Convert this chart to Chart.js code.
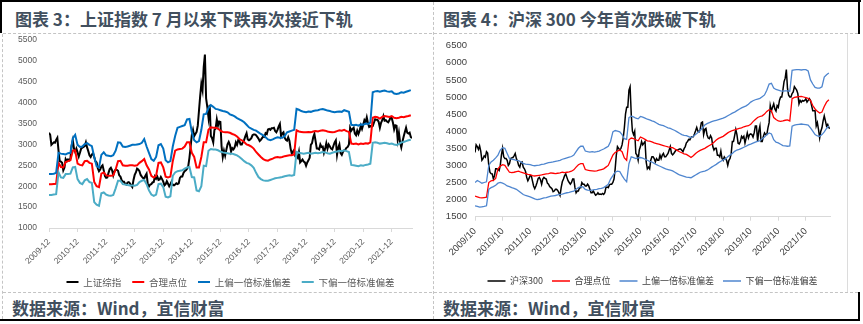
<!DOCTYPE html>
<html>
<head>
<meta charset="utf-8">
<script src="https://cdn.jsdelivr.net/npm/chart.js@4.4.0/dist/chart.umd.min.js"></script>
<style>
  html, body { margin: 0; padding: 0; background: #fff; }
  #page { position: relative; width: 863px; height: 324px; overflow: hidden; font-family: "Noto Sans CJK SC", sans-serif; }
  .title { position: absolute; font-size: 17px; font-weight: 700; color: #414f5e; line-height: 20px; white-space: nowrap; }
  .dash-h { position: absolute; height: 0; border-top: 1px dashed #c4c4c4; }
  .dash-v { position: absolute; width: 0; border-left: 1px dashed #c4c4c4; }
  .rule { position: absolute; background: #000; }
  canvas { position: absolute; }
</style>
</head>
<body>
<div id="page">
  <div class="rule" style="left:0;top:0;width:861px;height:2px"></div>
  <div class="rule" style="left:0;top:0;width:2px;height:33px"></div>
  <div class="rule" style="left:858px;top:0;width:2px;height:34px"></div>
  <div class="rule" style="left:858px;top:292px;width:2px;height:29px"></div>
  <div class="rule" style="left:0;top:319px;width:860px;height:2px"></div>
  <div class="dash-h" style="left:3px;top:33px;width:855px"></div>
  <div class="dash-h" style="left:3px;top:292px;width:855px"></div>
  <div class="dash-v" style="left:2px;top:34px;height:285px"></div>
  <div class="dash-v" style="left:433px;top:2px;height:317px"></div>
  <div style="position:absolute;left:847px;top:34px;width:1px;height:258px;background:#dcdcdc"></div>

  <div class="title" style="left:15px;top:9px">图表 3：上证指数 7 月以来下跌再次接近下轨</div>
  <div class="title" style="left:443px;top:9px">图表 4：沪深 300 今年首次跌破下轨</div>
  <div class="title" style="left:12px;top:298px">数据来源：Wind，宜信财富</div>
  <div class="title" style="left:443px;top:298px">数据来源：Wind，宜信财富</div>

  <canvas id="sse-chart" width="422" height="276" style="left:8px;top:34px"></canvas>
  <canvas id="csi-chart" width="424" height="276" style="left:436px;top:34px"></canvas>
</div>

<script>
// Shanghai Composite, two readings a month from Jan 2010
const sseIndex = [
  3277,3230, 2990,3020, 3050,3040, 3110,3160, 2850,2600, 2590,2560, 2380,2450, 2650,2600, 2640,2620, 2660,2970, 3100,2900, 2820,2900,
  2810,2710, 2800,2900, 2920,2940, 2960,3050, 2930,2840, 2740,2700, 2760,2790, 2700,2600, 2570,2430, 2360,2400, 2470,2500, 2380,2240,
  2200,2210, 2320,2410, 2440,2380, 2260,2360, 2400,2390, 2370,2260, 2230,2150, 2110,2110, 2060,2040, 2090,2100, 2070,2020, 1980,2150,
  2270,2330, 2420,2400, 2360,2270, 2230,2200, 2180,2250, 2300,2050, 1995,2040, 2050,2090, 2100,2230, 2180,2230, 2150,2160, 2220,2170,
  2110,2020, 2050,2120, 2060,2000, 2050,2110, 2030,2020, 2040,2070, 2050,2070, 2200,2230, 2230,2320, 2360,2380, 2420,2480, 2680,2950,
  3230,3350, 3200,3250, 3300,3450, 3800,4150, 4450,4300, 4850,5150, 4100,3900, 3650,3950, 3200,3150, 3050,3350, 3380,3600, 3450,3550,
  3540,2950, 2700,2850, 2730,2870, 3000,3060, 2990,2830, 2910,2880, 2930,3050, 2990,3100, 3080,3000, 3000,3060, 3110,3200, 3270,3120,
  3100,3120, 3150,3220, 3240,3240, 3220,3180, 3140,3080, 3110,3150, 3190,3180, 3270,3250, 3360,3370, 3350,3390, 3390,3400, 3320,3290,
  3350,3430, 3490,3200, 3260,3290, 3160,3110, 3090,3170, 3090,2900, 2780,2830, 2870,2720, 2720,2680, 2820,2570, 2600,2640, 2590,2570,
  2490,2570, 2620,2680, 2990,3030, 3170,3250, 3080,2900, 2900,2880, 3000,2940, 2950,2800, 2900,3030, 2900,3000, 2950,2900, 2880,2970,
  3050,3100, 2750,2920, 3000,2790, 2750,2820, 2860,2880, 2920,2940, 3000,3400, 3330,3370, 3400,3260, 3220,3330, 3250,3330, 3450,3370,
  3470,3580, 3530,3650, 3510,3420, 3440,3420, 3440,3520, 3600,3590, 3590,3540, 3400,3520, 3580,3680, 3570,3580, 3550,3530, 3580,3650,
  3630,3520, 3360,3460, 3450,3110, 3280,3050, 2930,3070, 3190,3300, 3400,3280, 3260,3280, 3180,3150
];

// monthly bands for the Shanghai chart
const sseFair = [
  2050,2050,2055,2060,2560,2460,2450,2580,2600,2620,
  2850,2860,2540,2510,2500,2600,2610,2560,2540,2100,
  2000,1980,2300,2330,2260,2250,2250,2260,2400,2600,
  2610,2500,2490,2490,2500,2500,2490,2500,2560,2600,
  2650,2500,2400,2250,2210,2250,2560,2570,2450,2230,
  2210,2230,2600,2850,2880,2890,2900,2950,3050,3050,
  2800,2700,2450,2450,2700,3050,3050,3350,3410,3400,
  3400,3380,3330,3300,3290,3290,3280,3250,3230,3190,
  3130,3100,3060,3000,2980,2950,2900,2820,2760,2700,
  2650,2620,2610,2640,2660,2690,2700,2690,2700,2720,
  2730,2740,2740,2760,3340,3310,3300,3290,3290,3300,
  3290,3310,3320,3310,3330,3340,3330,3310,3300,3290,
  3300,3320,3340,3330,3350,3320,3300,3020,3010,3020,
  3000,3020,3010,3030,3020,3050,3640,3660,3650,3620,
  3660,3680,3670,3660,3680,3640,3630,3640,3660,3650,
  3670,3680,3700
];
const sseUpper = [
  2290,2290,2300,2320,2800,2780,2770,2760,2790,2800,
  3150,3230,2990,2940,2950,3010,3030,2990,2960,2700,
  2480,2450,2750,2810,2740,2730,2720,2740,2850,3050,
  3040,2950,2940,2950,2970,2990,2990,3000,3010,3040,
  3130,2950,2800,2650,2610,2700,2980,3010,2900,2620,
  2570,2600,2950,3200,3400,3420,3440,3460,3600,3610,
  3300,3100,3050,3080,3350,3720,3730,3870,3940,3900,
  3850,3840,3820,3800,3790,3770,3720,3700,3670,3630,
  3600,3570,3530,3470,3410,3380,3350,3330,3290,3250,
  3220,3170,3120,3100,3120,3150,3170,3160,3160,3200,
  3290,3310,3330,3350,3850,3830,3800,3780,3770,3790,
  3780,3800,3810,3820,3840,3850,3830,3810,3800,3780,
  3770,3780,3790,3780,3820,3800,3780,3470,3460,3470,
  3450,3480,3470,3500,3490,3520,4250,4270,4280,4260,
  4280,4290,4270,4260,4270,4220,4210,4220,4250,4240,
  4260,4280,4300
];
const sseLower = [
  1790,1790,1800,1810,2330,2210,2200,2290,2290,2300,
  2450,2460,2170,2080,2050,2140,2170,2100,2080,1620,
  1560,1530,1830,1850,1800,1780,1770,1790,1950,2130,
  2130,2050,2040,2030,2020,2020,2010,2030,2100,2130,
  2150,2050,1900,1800,1770,1800,2050,2060,1980,1750,
  1730,1760,2250,2330,2360,2370,2380,2420,2450,2460,
  2220,2210,1900,1880,2000,2490,2480,2850,2890,2880,
  2880,2860,2830,2810,2800,2790,2780,2780,2760,2740,
  2700,2650,2600,2560,2540,2500,2440,2320,2220,2170,
  2140,2130,2130,2150,2170,2190,2200,2210,2220,2240,
  2250,2260,2250,2270,2820,2800,2790,2780,2790,2800,
  2780,2790,2800,2790,2800,2820,2810,2790,2780,2800,
  2820,2830,2850,2840,2860,2840,2820,2510,2500,2490,
  2480,2500,2490,2510,2520,2540,3040,3050,3040,3020,
  3030,3040,3030,3010,3020,3000,2990,3010,3050,3060,
  3080,3100,3110
];

// CSI 300, two readings a month from Nov 2009
const csi300 = [
  3380,3600, 3550,3470,
  3570,3420, 3150,3200, 3280,3240, 3400,3360, 3000,2800, 2760,2750, 2600,2700, 2900,2900, 2880,2850, 3000,3300, 3500,3250, 3200,3200,
  3150,3000, 3050,3200, 3220,3230, 3280,3350, 3200,3120, 3000,2950, 3080,3100, 2950,2900, 2820,2650, 2550,2620, 2700,2700, 2550,2400,
  2320,2400, 2500,2620, 2650,2580, 2450,2600, 2650,2620, 2600,2480, 2450,2380, 2350,2320, 2230,2250, 2300,2300, 2270,2200, 2120,2350,
  2520,2600, 2700,2750, 2650,2550, 2500,2450, 2500,2600, 2600,2350, 2200,2250, 2250,2350, 2350,2500, 2450,2450, 2400,2400, 2450,2400,
  2300,2200, 2200,2250, 2180,2130, 2150,2200, 2150,2160, 2150,2180, 2150,2200, 2360,2370, 2350,2430, 2450,2450, 2500,2600, 2900,3300,
  3550,3500, 3450,3500, 3600,3800, 4100,4500, 4700,4700, 5200,5300, 4500,4000, 3900,4000, 3350,3300, 3150,3450, 3550,3700, 3600,3650,
  3700,3100, 2900,2950, 2900,3150, 3250,3250, 3200,3100, 3200,3150, 3150,3300, 3200,3300, 3350,3250, 3250,3300, 3350,3450, 3550,3350,
  3310,3350, 3400,3450, 3450,3460, 3480,3480, 3440,3400, 3490,3550, 3660,3700, 3760,3750, 3820,3840, 3840,3920, 4010,4110, 4000,3980,
  4050,4250, 4270,3900, 4050,4080, 3890,3800, 3780,3870, 3800,3550, 3450,3500, 3500,3300, 3300,3250, 3420,3200, 3150,3250, 3200,3150,
  3000,3150, 3200,3350, 3700,3700, 3870,4050, 3900,3650, 3630,3700, 3850,3800, 3850,3650, 3800,3950, 3800,3900, 3920,3900, 3830,3950,
  4150,4150, 3700,4000, 4150,3700, 3700,3850, 3950,3900, 3900,4100, 4250,4750, 4600,4700, 4800,4650, 4590,4750, 4700,4900, 5000,5000,
  5200,5450, 5550,5800, 5250,5050, 5000,5000, 5100,5150, 5300,5250, 5200,5100, 4800,4900, 4850,4900, 4880,4900, 4950,4850, 4900,4950,
  4900,4750, 4600,4600, 4600,4150, 4250,4050, 3800,4000, 4100,4300, 4450,4300, 4150,4200, 4100,4080
];

// monthly bands for the CSI 300 chart
const csiFair = [
  2100,2080,2060,2050,2060,2070,2500,2550,2560,2620,
  2900,2980,3020,3000,2900,2800,2790,2800,2820,2830,
  2800,2780,2760,2740,2730,2700,2690,2700,2710,2720,
  2740,2750,2760,2780,2770,2760,2770,2780,2800,2790,
  2800,2810,2830,2870,2950,3020,3050,3050,2880,2860,
  2850,2840,2830,2840,2860,2880,2900,2950,3000,3150,
  3300,3380,3420,3450,3400,3220,3150,3750,3800,3780,
  3750,3720,3830,3800,3760,3720,3710,3690,3660,3640,
  3620,3600,3580,3560,3540,3530,3520,3480,3440,3400,
  3370,3340,3320,3280,3230,3280,3350,3400,3440,3470,
  3500,3540,3580,3620,3680,3740,3790,3820,3850,3900,
  3950,3990,4020,4040,4060,4080,4100,4130,4150,4160,
  4200,4280,4340,4400,4430,4450,4500,4580,4630,4600,
  4400,4340,4300,4290,4300,4320,4330,4300,4950,4990,
  5000,5010,5020,5000,4980,4960,4900,4750,4650,4580,
  4530,4560,4720,4850,4920
];
const csiUpper = [
  2500,2560,2520,2480,2500,2520,3000,3100,3150,3220,
  3300,3450,3520,3500,3350,3200,3180,3170,3150,3140,
  3100,3060,3040,3030,3020,3000,2990,3000,3010,3030,
  3040,3060,3080,3090,3100,3120,3130,3150,3180,3200,
  3220,3240,3260,3300,3400,3500,3560,3560,3420,3400,
  3390,3400,3390,3400,3420,3450,3480,3520,3560,3700,
  3980,4020,4000,3980,3900,3780,3760,4400,4440,4420,
  4380,4360,4430,4410,4380,4350,4330,4300,4280,4240,
  4200,4180,4160,4130,4100,4080,4050,4020,3980,3940,
  3900,3880,3870,3840,3810,3850,3900,3960,4020,4100,
  4180,4220,4250,4280,4300,4320,4340,4360,4380,4410,
  4450,4490,4530,4560,4600,4640,4680,4710,4740,4790,
  4850,4890,4920,4940,4960,5010,5060,5200,5380,5400,
  5260,5220,5200,5180,5170,5180,5180,5170,5780,5790,
  5800,5800,5790,5800,5800,5760,5500,5380,5280,5260,
  5260,5300,5580,5650,5700
];
const csiLower = [
  1820,1800,1780,1790,1800,1820,2300,2350,2380,2420,
  2480,2500,2480,2450,2400,2380,2350,2330,2300,2250,
  2200,2150,2120,2100,2080,2050,2020,2000,2010,2030,
  2050,2060,2080,2100,2110,2120,2140,2150,2160,2180,
  2200,2210,2230,2250,2300,2350,2380,2370,2300,2280,
  2270,2280,2290,2300,2320,2330,2350,2400,2450,2600,
  2700,2800,2830,2820,2700,2600,2520,3050,3250,3230,
  3200,3220,3230,3210,3180,3150,3120,3100,3060,3020,
  2990,2960,2930,2900,2880,2860,2840,2800,2760,2720,
  2700,2680,2660,2650,2640,2680,2720,2760,2800,2820,
  2830,2860,2900,2950,2990,3030,3080,3120,3160,3190,
  3250,3300,3350,3410,3450,3470,3500,3530,3560,3600,
  3620,3650,3680,3700,3720,3780,3830,3900,3950,3920,
  3750,3680,3660,3620,3580,3570,3560,3570,4150,4180,
  4190,4200,4210,4200,4190,4180,4100,4000,3900,3860,
  3850,3900,3980,4080,4150
];

const sseTickLabels = ['2009-12','2010-12','2011-12','2012-12','2013-12','2014-12','2015-12',
  '2016-12','2017-12','2018-12','2019-12','2020-12','2021-12'];
const csiTickLabels = ['2009/10','2010/10','2011/10','2012/10','2013/10','2014/10','2015/10',
  '2016/10','2017/10','2018/10','2019/10','2020/10','2021/10'];
const tickMonths = [0, 12, 24, 36, 48, 60, 72, 84, 96, 108, 120, 132, 144];

const sseNames = ['上证综指', '合理点位', '上偏一倍标准偏差', '下偏一倍标准偏差'];
const csiNames = ['沪深300', '合理点位', '上偏一倍标准偏差', '下偏一倍标准偏差'];

const NUM_FONT = '"Liberation Sans", "Noto Sans CJK SC", sans-serif';
const CJK_FONT = '"Noto Sans CJK SC", sans-serif';

function halfMonthly(values) {
    return values.map((v, i) => ({ x: i / 2, y: v }));
}

function monthly(values) {
    return values.map((v, i) => ({ x: i, y: v }));
}

function lineSet(label, points, color, width, order) {
    return {
        label: label,
        data: points,
        borderColor: color,
        backgroundColor: color,
        borderWidth: width,
        pointRadius: 0,
        tension: 0,
        order: order
    };
}

function drawBandChart(id, o) {
    const ctx = document.getElementById(id).getContext('2d');
    return new Chart(ctx, {
        type: 'line',
        data: { datasets: o.datasets },
        options: {
            responsive: false,
            animation: false,
            events: [],
            layout: { padding: o.padding },
            plugins: {
                tooltip: { enabled: false },
                legend: {
                    position: 'bottom',
                    fullSize: false,
                    labels: {
                        usePointStyle: true,
                        pointStyle: 'line',
                        pointStyleWidth: o.legendLine,
                        padding: o.legendPadding,
                        color: o.textColor,
                        font: { family: CJK_FONT, size: o.legendSize },
                        sort: (a, b) => a.datasetIndex - b.datasetIndex
                    }
                }
            },
            scales: {
                x: {
                    type: 'linear',
                    min: 0,
                    max: o.xMax,
                    afterBuildTicks: scale => { scale.ticks = tickMonths.map(v => ({ value: v })); },
                    // fixed axis box so the plot area lands where it should
                    afterFit: scale => {
                        scale.height = o.xHeight;
                        scale.paddingLeft = 0;
                        scale.paddingRight = 0;
                    },
                    grid: { drawOnChartArea: false, drawTicks: true, tickLength: 4, color: '#d9d9d9' },
                    border: { display: true, color: '#d9d9d9' },
                    ticks: {
                        autoSkip: false,
                        minRotation: 45,
                        maxRotation: 45,
                        padding: 5,
                        color: o.textColor,
                        font: { family: NUM_FONT, size: o.tickSize },
                        callback: (value, index) => o.xLabels[index]
                    }
                },
                y: {
                    min: o.yMin,
                    max: o.yMax,
                    afterFit: scale => {
                        scale.width = o.yWidth;
                        scale.paddingTop = 0;
                        scale.paddingBottom = 0;
                    },
                    grid: { display: false, drawTicks: false },
                    border: { display: false },
                    ticks: {
                        stepSize: 500,
                        autoSkip: false,
                        padding: o.yPad,
                        color: o.textColor,
                        font: { family: NUM_FONT, size: o.tickSize },
                        callback: value => String(value)
                    }
                }
            }
        }
    });
}

drawBandChart('sse-chart', {
    datasets: [
        lineSet(sseNames[0], halfMonthly(sseIndex), '#000000', 2, 3),
        lineSet(sseNames[1], monthly(sseFair), '#ff0000', 2, 2),
        lineSet(sseNames[2], monthly(sseUpper), '#0070c0', 2, 1),
        lineSet(sseNames[3], monthly(sseLower), '#4bacc6', 2, 0)
    ],
    xLabels: sseTickLabels,
    xMax: 152.5,
    yMin: 1000,
    yMax: 5500,
    padding: { top: 6, left: 0, right: 18, bottom: 13.25 },
    xHeight: 38.25,
    yWidth: 41,
    yPad: 12,
    tickSize: 8.5,
    legendSize: 9.5,
    legendLine: 12,
    legendPadding: 11,
    textColor: '#595959'
});

drawBandChart('csi-chart', {
    datasets: [
        lineSet(csiNames[0], halfMonthly(csi300), '#000000', 1.5, 3),
        lineSet(csiNames[1], monthly(csiFair), '#ff0000', 1.3, 2),
        lineSet(csiNames[2], monthly(csiUpper), '#4f86cf', 1.3, 1),
        lineSet(csiNames[3], monthly(csiLower), '#4f86cf', 1.3, 0)
    ],
    xLabels: csiTickLabels,
    xMax: 154.5,
    yMin: 1500,
    yMax: 6500,
    padding: { top: 11.7, left: 0, right: 30, bottom: 14.5 },
    xHeight: 50.8,
    yWidth: 39,
    yPad: 8,
    tickSize: 9.5,
    legendSize: 9,
    legendLine: 18,
    legendPadding: 9,
    textColor: '#404040'
});
</script>
</body>
</html>
